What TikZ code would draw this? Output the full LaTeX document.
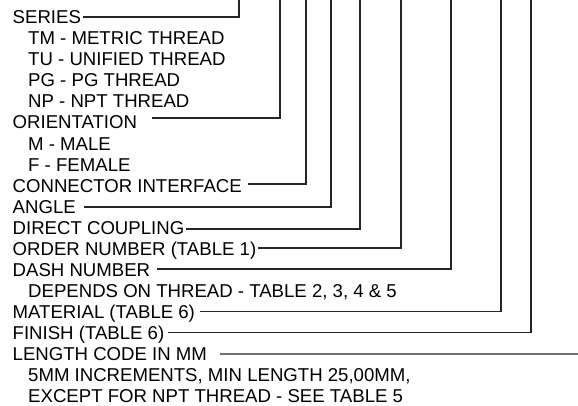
\documentclass[tikz,border=0pt]{standalone}
\usepackage{fontspec}
\setmainfont{Liberation Sans}
\begin{document}
\begin{tikzpicture}[x=1pt,y=-1pt,
  lab/.style={anchor=west, inner sep=0pt, text height=13.3pt, text depth=0pt, font=\fontsize{18.6}{21}\selectfont},
  conn/.style={line width=1.1pt, draw=black!85}]
\useasboundingbox (0,0) rectangle (578,405);
% labels
\node[lab] (series) at (12.5,17) {SERIES};
\node[lab] (tm) at (28,38.06) {TM - METRIC THREAD};
\node[lab] (tu) at (28,59.12) {TU - UNIFIED THREAD};
\node[lab] (pg) at (28,80.18) {PG - PG THREAD};
\node[lab] (np) at (28,101.24) {NP - NPT THREAD};
\node[lab] (orient) at (12.5,122.3) {ORIENTATION};
\node[lab] (male) at (28,143.36) {M - MALE};
\node[lab] (female) at (28,164.42) {F - FEMALE};
\node[lab] (conni) at (12.5,185.48) {CONNECTOR INTERFACE};
\node[lab] (angle) at (12.5,206.54) {ANGLE};
\node[lab] (direct) at (12.5,227.6) {DIRECT COUPLING};
\node[lab] (order) at (12.5,248.66) {ORDER NUMBER (TABLE 1)};
\node[lab] (dash) at (12.5,269.72) {DASH NUMBER};
\node[lab] (depends) at (28,290.78) {DEPENDS ON THREAD - TABLE 2, 3, 4 \& 5};
\node[lab] (material) at (12.5,311.84) {MATERIAL (TABLE 6)};
\node[lab] (finish) at (12.5,332.9) {FINISH (TABLE 6)};
\node[lab] (length) at (12.5,353.96) {LENGTH CODE IN MM};
\node[lab] (incr) at (28,375.02) {5MM INCREMENTS, MIN LENGTH 25,00MM,};
\node[lab] (except) at (28,396.08) {EXCEPT FOR NPT THREAD - SEE TABLE 5};
% top ends of the leaders
\coordinate (t1) at (239,0);
\coordinate (t2) at (280,0);
\coordinate (t3) at (306,0);
\coordinate (t4) at (331,0);
\coordinate (t5) at (360,0);
\coordinate (t6) at (401,0);
\coordinate (t7) at (451,0);
\coordinate (t8) at (501,0);
\coordinate (t9) at (531,0);
\coordinate (t10) at (578,354);
% leaders
\draw[conn] ([shift={(2,0)}]series.east) -| (t1);
\draw[conn] ([shift={(15,-4.3)}]orient.east) -| (t2);
\draw[conn] ([shift={(6,-1.5)}]conni.east) -| (t3);
\draw[conn] ([shift={(8,0.5)}]angle.east) -| (t4);
\draw[conn] ([shift={(2,1.4)}]direct.east) -| (t5);
\draw[conn] ([shift={(1.5,-0.7)}]order.east) -| (t6);
\draw[conn] ([shift={(7,-0.7)}]dash.east) -| (t7);
\draw[conn] ([shift={(5,0)}]material.east) -| (t8);
\draw[conn] ([shift={(4,0)}]finish.east) -| (t9);
\draw[conn] ([shift={(13,0)}]length.east) -- (t10);
\end{tikzpicture}
\end{document}
